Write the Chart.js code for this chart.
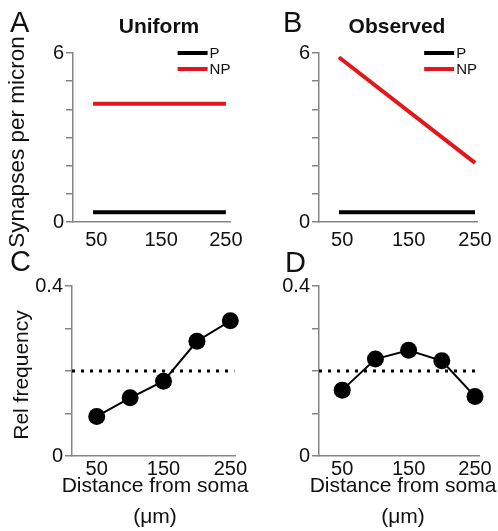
<!DOCTYPE html>
<html>
<head>
<meta charset="utf-8">
<script src="https://cdn.jsdelivr.net/npm/chart.js@4.4.1/dist/chart.umd.min.js"></script>
<style>
  html, body { margin: 0; padding: 0; background: #fff; }
  body { width: 498px; height: 531px; position: relative; overflow: hidden;
         font-family: 'Liberation Sans', Arial, sans-serif; color: #111; }
  canvas { position: absolute; }
  .letter { position: absolute; font-size: 29px; line-height: 29px; }
  .title { position: absolute; width: 200px; text-align: center; font-size: 21px;
           line-height: 21px; font-weight: bold; }
</style>
</head>
<body>
<canvas id="chartA" width="249" height="250" style="left:0;top:0"></canvas>
<canvas id="chartB" width="249" height="250" style="left:249px;top:0"></canvas>
<canvas id="chartC" width="249" height="281" style="left:0;top:250px"></canvas>
<canvas id="chartD" width="249" height="281" style="left:249px;top:250px"></canvas>

<div class="letter" style="left:10px;top:8px">A</div>
<div class="letter" style="left:283px;top:8px">B</div>
<div class="letter" style="left:10px;top:247px">C</div>
<div class="letter" style="left:285px;top:248px">D</div>
<div class="title" style="left:59px;top:15px">Uniform</div>
<div class="title" style="left:297px;top:15px">Observed</div>

<script>
// distances (um) and tick values
const distance = [50, 100, 150, 200, 250];
const xTickValues = [50, 150, 250];

// synapse density lines (A, B)
const densityX = [45, 250];
const uniformP = [0.35, 0.35];
const uniformNP = [4.2, 4.2];
const observedP = [0.35, 0.35];
const observedNP = [5.85, 2.1];
const densityTickLabels = [0, 6];

// relative frequency (C, D)
const freqUniform = [0.093, 0.137, 0.176, 0.27, 0.318];
const freqObserved = [0.155, 0.228, 0.249, 0.224, 0.14];
const flatLevel = 0.2;
const freqTickLabels = [0, 0.4];

const FONT = "'Liberation Sans', Arial, sans-serif";
const INK = '#111';
const AXIS = '#858585';
const RED = '#e3161b';

const pts = (xs, ys) => xs.map((x, i) => ({ x: x, y: ys[i] }));

// legend drawn inside the plot, short line + label, right aligned
const lineLegend = {
  id: 'lineLegend',
  afterDatasetsDraw(chart) {
    const { ctx, chartArea } = chart;
    const items = chart.data.datasets.filter(d => d.label);
    ctx.save();
    ctx.font = '15px ' + FONT;
    const textX = chartArea.right - Math.max(...items.map(d => ctx.measureText(d.label).width));
    items.forEach((d, i) => {
      const y = chartArea.top + i * 16;
      ctx.strokeStyle = d.borderColor;
      ctx.lineWidth = 4;
      ctx.beginPath();
      ctx.moveTo(textX - 32, y);
      ctx.lineTo(textX - 2, y);
      ctx.stroke();
      ctx.fillStyle = INK;
      ctx.textBaseline = 'middle';
      ctx.textAlign = 'left';
      ctx.fillText(d.label, textX, y + 1);
    });
    ctx.restore();
  }
};

// axis captions without chart.js' maxWidth squeeze
function captions(c) {
  return {
    id: 'captions',
    afterDraw(chart) {
      const { ctx } = chart;
      ctx.save();
      ctx.fillStyle = INK;
      ctx.textAlign = 'center';
      ctx.textBaseline = 'middle';
      if (c.y) {
        ctx.save();
        ctx.font = c.y.size + 'px ' + FONT;
        ctx.translate(c.y.x, c.y.mid);
        ctx.rotate(-Math.PI / 2);
        ctx.fillText(c.y.text, 0, 0);
        ctx.restore();
      }
      if (c.x) {
        ctx.font = '21px ' + FONT;
        c.x.lines.forEach((line, i) => ctx.fillText(line, c.x.mid, c.x.y + i * 31));
      }
      ctx.restore();
    }
  };
}

function makeChart(id, cfg) {
  const yTicks = cfg.yLabels;
  const plugins = [captions(cfg.captions || {})];
  if (cfg.legend) plugins.push(lineLegend);
  return new Chart(document.getElementById(id), {
    type: 'scatter',
    data: { datasets: cfg.datasets },
    plugins: plugins,
    options: {
      responsive: false,
      animation: false,
      layout: { autoPadding: false, padding: cfg.padding },
      plugins: { legend: { display: false }, tooltip: { enabled: false } },
      scales: {
        x: {
          type: 'linear',
          min: cfg.xMin,
          max: cfg.xMax,
          afterBuildTicks: s => { s.ticks = xTickValues.map(v => ({ value: v })); },
          afterFit: s => { s.height = cfg.xHeight; },
          grid: { display: false, drawTicks: false },
          border: { display: true, color: AXIS, width: 1.5 },
          ticks: { color: INK, font: { family: FONT, size: 20 }, padding: cfg.xPad,
                   maxRotation: 0, autoSkip: false }
        },
        y: {
          min: cfg.yMin,
          max: cfg.yMax,
          afterFit: s => { s.width = cfg.yWidth; },
          grid: { drawOnChartArea: false, drawTicks: true, tickLength: 7, color: AXIS, lineWidth: 1.5 },
          border: { display: true, color: AXIS, width: 1.5 },
          ticks: {
            stepSize: cfg.yStep,
            padding: 2,
            color: INK,
            font: { family: FONT, size: 20 },
            autoSkip: false,
            callback: v => yTicks.some(t => Math.abs(t - v) < 1e-9) ? String(+v.toFixed(2)) : ''
          }
        }
      }
    }
  });
}

function densitySets(p, np) {
  return [
    { label: 'P', data: pts(densityX, p), showLine: true, borderColor: '#000', borderWidth: 4, pointRadius: 0 },
    { label: 'NP', data: pts(densityX, np), showLine: true, borderColor: RED, borderWidth: 4, pointRadius: 0 }
  ];
}

function freqSets(vals, xMin, xMax) {
  return [
    { data: pts(distance, vals), showLine: true, borderColor: '#000', borderWidth: 2, clip: false,
      pointRadius: 8.5, pointBackgroundColor: '#000', pointBorderWidth: 0 },
    { data: [{ x: xMin, y: flatLevel }, { x: xMax, y: flatLevel }], showLine: true,
      borderColor: '#000', borderWidth: 3, borderDash: [3, 6], pointRadius: 0 }
  ];
}

const distanceCaption = ['Distance from soma', '(\u03bcm)'];

makeChart('chartA', {
  datasets: densitySets(uniformP, uniformNP), legend: true,
  padding: { top: 53, right: 14, bottom: 0, left: 0 },
  xMin: 14, xMax: 257, xHeight: 28, xPad: 6,
  yMin: 0, yMax: 6, yStep: 1, yLabels: densityTickLabels, yWidth: 73,
  captions: { y: { text: 'Synapses per micron', size: 22.5, x: 18, mid: 142 } }
});

makeChart('chartB', {
  datasets: densitySets(observedP, observedNP), legend: true,
  padding: { top: 53, right: 21, bottom: 0, left: 0 },
  xMin: 15, xMax: 253, xHeight: 28, xPad: 6,
  yMin: 0, yMax: 6, yStep: 1, yLabels: densityTickLabels, yWidth: 70
});

makeChart('chartC', {
  datasets: freqSets(freqUniform, 13, 256),
  padding: { top: 36, right: 14, bottom: 0, left: 0 },
  xMin: 13, xMax: 257, xHeight: 75, xPad: 1,
  yMin: 0, yMax: 0.4, yStep: 0.1, yLabels: freqTickLabels, yWidth: 72,
  captions: { y: { text: 'Rel frequency', size: 21, x: 22, mid: 125 },
              x: { lines: distanceCaption, mid: 155, y: 236 } }
});

makeChart('chartD', {
  datasets: freqSets(freqObserved, 15, 255),
  padding: { top: 36, right: 19, bottom: 0, left: 0 },
  xMin: 15, xMax: 256, xHeight: 75, xPad: 1,
  yMin: 0, yMax: 0.4, yStep: 0.1, yLabels: freqTickLabels, yWidth: 70,
  captions: { x: { lines: distanceCaption, mid: 154, y: 236 } }
});
</script>
</body>
</html>
